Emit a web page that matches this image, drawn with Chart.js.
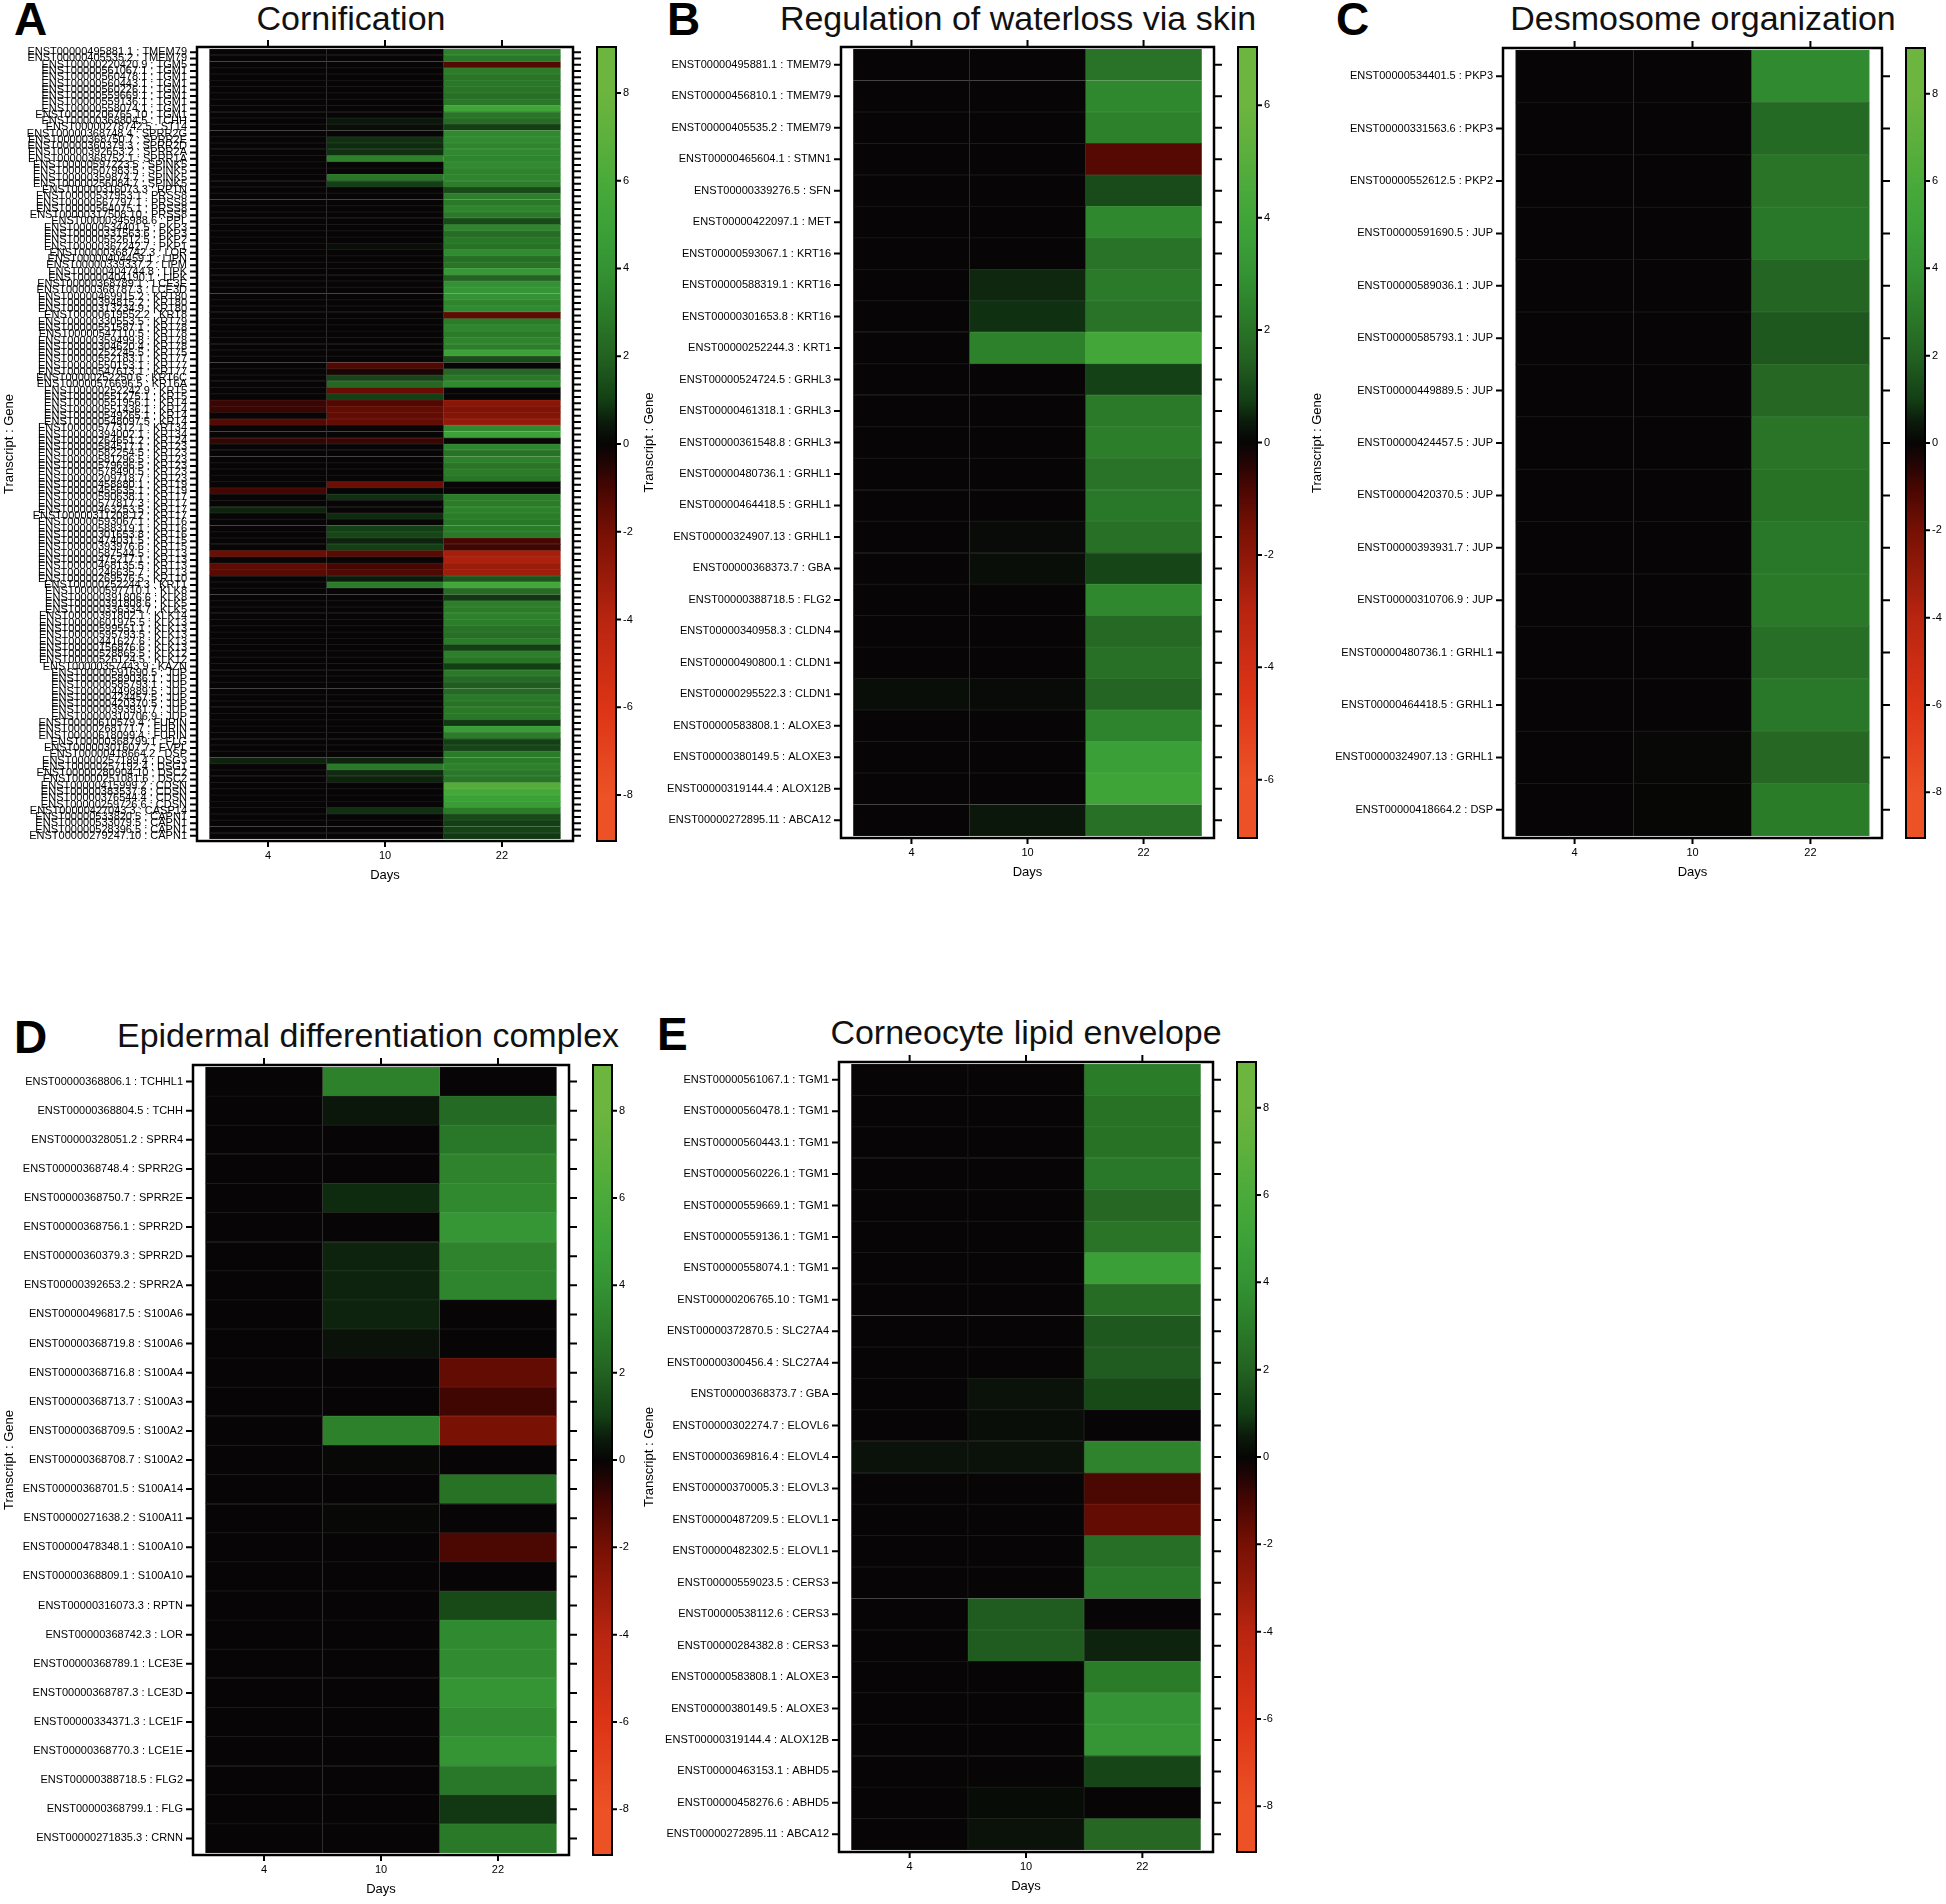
<!DOCTYPE html>
<html>
<head>
<meta charset="utf-8">
<script src="https://cdn.jsdelivr.net/npm/chart.js@4.4.1/dist/chart.umd.min.js"></script>
<style>
  body { margin: 0; background: #fff; width: 1946px; height: 1904px; position: relative; overflow: hidden;
         font-family: "Liberation Sans", Arial, sans-serif; color: #000; }
  canvas { position: absolute; }
  .ttl { position: absolute; font-size: 34px; line-height: 34px; white-space: nowrap; transform: translateX(-50%); color: #111; }
  .let { position: absolute; font-size: 46px; line-height: 46px; font-weight: bold; }
</style>
</head>
<body>
<div class="let" style="left:14px;top:-4px">A</div>
<div class="ttl" style="left:351px;top:1px">Cornification</div>
<div class="let" style="left:667px;top:-4px">B</div>
<div class="ttl" style="left:1018px;top:1px">Regulation of waterloss via skin</div>
<div class="let" style="left:1336px;top:-4px">C</div>
<div class="ttl" style="left:1703px;top:1px">Desmosome organization</div>
<div class="let" style="left:14px;top:1014px">D</div>
<div class="ttl" style="left:368px;top:1018px">Epidermal differentiation complex</div>
<div class="let" style="left:657px;top:1011px">E</div>
<div class="ttl" style="left:1026px;top:1015px">Corneocyte lipid envelope</div>

<script>
// ---------- DATA ----------
const days = ["4", "10", "22"];

// A: Cornification (log2 fold change, days 4 / 10 / 22)
const cornLabels = [
  "ENST00000495881.1 : TMEM79", "ENST00000405535.2 : TMEM79", "ENST00000220420.9 : TGM5",
  "ENST00000561067.1 : TGM1", "ENST00000560478.1 : TGM1", "ENST00000560443.1 : TGM1",
  "ENST00000560226.1 : TGM1", "ENST00000559669.1 : TGM1", "ENST00000559136.1 : TGM1",
  "ENST00000558074.1 : TGM1", "ENST00000206765.10 : TGM1", "ENST00000368804.5 : TCHH",
  "ENST00000278742.5 : ST14", "ENST00000368748.4 : SPRR2G", "ENST00000368750.7 : SPRR2E",
  "ENST00000360379.3 : SPRR2D", "ENST00000392653.2 : SPRR2A", "ENST00000368752.1 : SPRR1A",
  "ENST00000597223.5 : SPINK5", "ENST00000507983.5 : SPINK5", "ENST00000359874.7 : SPINK5",
  "ENST00000256084.7 : SPINK5", "ENST00000316073.3 : RPTN", "ENST00000537953.1 : PRSS8",
  "ENST00000567797.1 : PRSS8", "ENST00000564075.1 : PRSS8", "ENST00000317508.10 : PRSS8",
  "ENST00000345988.6 : PPL", "ENST00000534401.5 : PKP3", "ENST00000331563.6 : PKP3",
  "ENST00000552612.5 : PKP2", "ENST00000367242.7 : PKP1", "ENST00000368742.3 : LOR",
  "ENST00000404459.1 : LIPN", "ENST00000339337.2 : LIPM", "ENST00000404744.8 : LIPK",
  "ENST00000404190.1 : LIPK", "ENST00000368789.1 : LCE3E", "ENST00000368787.3 : LCE3D",
  "ENST00000469915.2 : KRT80", "ENST00000394815.2 : KRT80", "ENST00000313234.9 : KRT80",
  "ENST00000619552.2 : KRT8", "ENST00000330553.5 : KRT79", "ENST00000551587.1 : KRT78",
  "ENST00000547110.5 : KRT78", "ENST00000359499.8 : KRT78", "ENST00000304620.4 : KRT78",
  "ENST00000252245.5 : KRT75", "ENST00000552183.1 : KRT77", "ENST00000550153.1 : KRT77",
  "ENST00000547613.1 : KRT77", "ENST00000252250.6 : KRT6C", "ENST00000576696.5 : KRT6A",
  "ENST00000252242.9 : KRT5", "ENST00000551275.1 : KRT5", "ENST00000551956.1 : KRT4",
  "ENST00000551436.1 : KRT4", "ENST00000549265.1 : KRT4", "ENST00000548097.5 : KRT4",
  "ENST00000577312.1 : KRT34", "ENST00000394002.1 : KRT34", "ENST00000264651.2 : KRT24",
  "ENST00000584517.1 : KRT23", "ENST00000582254.5 : KRT23", "ENST00000581296.5 : KRT23",
  "ENST00000579696.5 : KRT23", "ENST00000578490.5 : KRT23", "ENST00000209718.7 : KRT23",
  "ENST00000458880.1 : KRT19", "ENST00000455635.1 : KRT19", "ENST00000590638.1 : KRT17",
  "ENST00000577817.3 : KRT17", "ENST00000463253.5 : KRT17", "ENST00000311208.12 : KRT17",
  "ENST00000593067.1 : KRT16", "ENST00000588319.1 : KRT16", "ENST00000301653.8 : KRT16",
  "ENST00000474031.5 : KRT15", "ENST00000393976.6 : KRT15", "ENST00000587544.5 : KRT13",
  "ENST00000475217.1 : KRT13", "ENST00000468135.5 : KRT13", "ENST00000246635.7 : KRT13",
  "ENST00000269576.5 : KRT10", "ENST00000252244.3 : KRT1", "ENST00000597710.1 : KLK8",
  "ENST00000391806.6 : KLK8", "ENST00000391808.6 : KLK5", "ENST00000336334.7 : KLK5",
  "ENST00000391802.1 : KLK14", "ENST00000601975.5 : KLK13", "ENST00000599551.1 : KLK13",
  "ENST00000595793.5 : KLK13", "ENST00000441627.6 : KLK13", "ENST00000156876.6 : KLK13",
  "ENST00000528865.5 : KLK12", "ENST00000526124.5 : KLK12", "ENST00000357443.9 : KAZN",
  "ENST00000591690.5 : JUP", "ENST00000589036.1 : JUP", "ENST00000585793.1 : JUP",
  "ENST00000449889.5 : JUP", "ENST00000424457.5 : JUP", "ENST00000420370.5 : JUP",
  "ENST00000393931.7 : JUP", "ENST00000310706.9 : JUP", "ENST00000610579.4 : FURIN",
  "ENST00000268171.7 : FURIN", "ENST00000618099.4 : FURIN", "ENST00000368799.1 : FLG",
  "ENST00000301607.7 : EVPL", "ENST00000418664.2 : DSP", "ENST00000257189.4 : DSG3",
  "ENST00000257192.4 : DSG1", "ENST00000280904.10 : DSC2", "ENST00000251081.6 : DSC2",
  "ENST00000415999.2 : CDSN", "ENST00000383537.8 : CDSN", "ENST00000376544.4 : CDSN",
  "ENST00000259726.6 : CDSN", "ENST00000427043.3 : CASP14", "ENST00000533820.5 : CAPN1",
  "ENST00000533079.5 : CAPN1", "ENST00000528396.5 : CAPN1", "ENST00000279247.10 : CAPN1"
];
const corn4 = [
  0, 0, 0, 0, 0, 0, 0, 0, 0, 0, 0, 0, 0, 0, 0, 0, 0, 0, 0, 0, 0, 0, 0, 0, 0, 0, 0, 0, 0, 0,
  0, 0, 0, 0, 0, 0, 0, 0, 0, 0, 0, 0, 0, 0, 0, 0, 0, 0, 0, 0, 0, 0, 0, 0, 0, 0, -0.8, -0.8, 0, -1.3,
  0, 0, -0.7, 0, 0, 0, 0, 0, 0, 0, -1.0, 0, 0, 0.6, 0, 0, 0, 0, 0, 0, -1.8, 0, -1.5, -1.4, 0, 0,
  0, 0, 0, 0, 0, 0, 0, 0, 0, 0, 0, 0, 0, 0, 0, 0, 0, 0, 0, 0, 0, 0, 0, 0, 0, 0, 0, 0.6, 0, 0,
  0, 0, 0, 0, 0, 0, 0, 0, 0, 0
];
const corn10 = [
  0, 0, 0, 0, 0, 0, 0, 0, 0, 0, 0, 0.4, 0.2, 0, 0.8, 0.7, 0.8, 3.2, 0, 0, 2.7, 1.0, 0, 0, 0, 0, 0, 0, 0, 0,
  0, 0.2, 0, 0, 0, 0, 0, 0, 0, 0, 0, 0, 0, 0, 0, 0, 0, 0, 0, 0, -1.2, -0.3, 1.2, 2.2, -1.7, 1.0, -1.2, -1.6, -1.6, -1.6,
  0, 0, -0.8, 0, 0, 0, 0, 0, 0, -1.8, 0, 0.8, 0, 0, 0.7, 0, 1.0, 1.2, 0.6, 1.0, -1.4, 0, -1.0, -1.2, 0.5, 3.0,
  0, 0, 0, 0, 0, 0, 0, 0, 0, 0, 0, 0, 0, 0, 0, 0, 0, 0, 0, 0, 0, 0, 0, 0, 0, 0, 0, 0.6, 2.9, 0.7,
  0.6, 0, 0, 0, 0, 0.8, 0, 0, 0, 0
];
const corn22 = [
  3.2, 2.8, -1.3, 3.0, 2.7, 2.8, 2.7, 2.5, 2.8, 5.3, 2.7, 2.4, 1.0, 3.5, 3.6, 3.4, 3.5, 3.4, 3.6, 3.3,
  3.4, 3.1, 1.3, 3.1, 2.9, 3.4, 2.9, 1.3, 3.4, 2.4, 2.8, 2.6, 3.7, 2.5, 2.7, 4.4, 2.0, 3.9, 4.2, 4.0,
  3.4, 3.6, -1.5, 3.0, 3.4, 3.0, 3.3, 3.1, 5.0, 1.4, 0, 2.2, 2.9, 3.5, 0, 0, -2.6, -2.3, -2.4, -2.9,
  3.5, 5.0, 0, 3.4, 2.6, 3.2, 2.7, 3.0, 2.7, 0, 0, 3.0, 3.0, 3.2, 3.0, 2.8, 3.0, 2.9, -1.0, -0.9,
  -3.4, -3.6, -3.1, -3.2, 1.6, 5.5, 2.4, 0.9, 3.1, 3.0, 3.2, 3.1, 2.6, 2.5, 3.0, 1.0, 3.1, 2.7, 1.0, 2.9,
  2.3, 1.8, 2.3, 2.8, 2.6, 2.9, 2.8, 0.9, 4.6, 3.0, 1.0, 1.2, 3.0, 3.0, 3.2, 2.8, 2.7, 6.5, 5.6, 5.0,
  4.6, 3.0, 1.3, 1.0, 1.1, 0.9
];

// B: Regulation of waterloss via skin
const waterLabels = [
  "ENST00000495881.1 : TMEM79", "ENST00000456810.1 : TMEM79", "ENST00000405535.2 : TMEM79",
  "ENST00000465604.1 : STMN1", "ENST00000339276.5 : SFN", "ENST00000422097.1 : MET",
  "ENST00000593067.1 : KRT16", "ENST00000588319.1 : KRT16", "ENST00000301653.8 : KRT16",
  "ENST00000252244.3 : KRT1", "ENST00000524724.5 : GRHL3", "ENST00000461318.1 : GRHL3",
  "ENST00000361548.8 : GRHL3", "ENST00000480736.1 : GRHL1", "ENST00000464418.5 : GRHL1",
  "ENST00000324907.13 : GRHL1", "ENST00000368373.7 : GBA", "ENST00000388718.5 : FLG2",
  "ENST00000340958.3 : CLDN4", "ENST00000490800.1 : CLDN1", "ENST00000295522.3 : CLDN1",
  "ENST00000583808.1 : ALOXE3", "ENST00000380149.5 : ALOXE3", "ENST00000319144.4 : ALOX12B",
  "ENST00000272895.11 : ABCA12"
];
const water4 = [0, 0, 0, 0, 0, 0, 0, 0, 0, 0, 0, 0, 0, 0, 0, 0, 0, 0, 0, 0, 0.15, 0, 0, 0, 0];
const water10 = [0, 0, 0, 0, 0, 0, 0, 0.5, 0.6, 2.4, 0, 0, 0, 0, 0, 0.1, 0.15, 0, 0, 0, 0.1, 0, 0, 0, 0.3];
const water22 = [2.0, 2.6, 2.4, -1.0, 1.0, 2.6, 2.0, 2.2, 2.0, 4.1, 0.8, 2.2, 2.3, 2.0, 2.1, 1.9, 0.9, 2.6, 1.7, 1.9, 1.6, 2.5, 3.6, 3.9, 1.9];

// C: Desmosome organization
const desmoLabels = [
  "ENST00000534401.5 : PKP3", "ENST00000331563.6 : PKP3", "ENST00000552612.5 : PKP2",
  "ENST00000591690.5 : JUP", "ENST00000589036.1 : JUP", "ENST00000585793.1 : JUP",
  "ENST00000449889.5 : JUP", "ENST00000424457.5 : JUP", "ENST00000420370.5 : JUP",
  "ENST00000393931.7 : JUP", "ENST00000310706.9 : JUP", "ENST00000480736.1 : GRHL1",
  "ENST00000464418.5 : GRHL1", "ENST00000324907.13 : GRHL1", "ENST00000418664.2 : DSP"
];
const desmo4 = [0, 0, 0, 0, 0, 0, 0, 0, 0, 0, 0, 0, 0, 0, 0];
const desmo10 = [0, 0, 0, 0, 0, 0, 0, 0, 0, 0, 0, 0, 0, 0.1, 0.05];
const desmo22 = [3.6, 2.3, 2.7, 2.8, 2.1, 1.7, 2.2, 2.7, 2.6, 2.8, 2.9, 2.5, 2.8, 2.2, 3.0];

// D: Epidermal differentiation complex
const edcLabels = [
  "ENST00000368806.1 : TCHHL1", "ENST00000368804.5 : TCHH", "ENST00000328051.2 : SPRR4",
  "ENST00000368748.4 : SPRR2G", "ENST00000368750.7 : SPRR2E", "ENST00000368756.1 : SPRR2D",
  "ENST00000360379.3 : SPRR2D", "ENST00000392653.2 : SPRR2A", "ENST00000496817.5 : S100A6",
  "ENST00000368719.8 : S100A6", "ENST00000368716.8 : S100A4", "ENST00000368713.7 : S100A3",
  "ENST00000368709.5 : S100A2", "ENST00000368708.7 : S100A2", "ENST00000368701.5 : S100A14",
  "ENST00000271638.2 : S100A11", "ENST00000478348.1 : S100A10", "ENST00000368809.1 : S100A10",
  "ENST00000316073.3 : RPTN", "ENST00000368742.3 : LOR", "ENST00000368789.1 : LCE3E",
  "ENST00000368787.3 : LCE3D", "ENST00000334371.3 : LCE1F", "ENST00000368770.3 : LCE1E",
  "ENST00000388718.5 : FLG2", "ENST00000368799.1 : FLG", "ENST00000271835.3 : CRNN"
];
const edc4 = [0, 0, 0, 0, 0, 0, 0, 0, 0, 0, 0, 0, 0, 0, 0, 0, 0, 0, 0, 0, 0, 0, 0, 0, 0, 0, 0];
const edc10 = [3.2, 0.4, 0, 0, 0.7, 0, 0.6, 0.6, 0.6, 0.3, 0, 0, 3.2, 0.1, 0, 0.1, 0, 0, 0, 0, 0, 0, 0, 0, 0, 0, 0];
const edc22 = [0, 2.3, 2.8, 3.3, 3.5, 4.2, 3.3, 3.4, 0, 0, -1.6, -0.9, -2.1, 0, 2.6, 0, -1.1, 0, 1.3, 3.6, 3.7, 4.1, 3.7, 4.1, 2.8, 0.9, 2.9];

// E: Corneocyte lipid envelope
const lipidLabels = [
  "ENST00000561067.1 : TGM1", "ENST00000560478.1 : TGM1", "ENST00000560443.1 : TGM1",
  "ENST00000560226.1 : TGM1", "ENST00000559669.1 : TGM1", "ENST00000559136.1 : TGM1",
  "ENST00000558074.1 : TGM1", "ENST00000206765.10 : TGM1", "ENST00000372870.5 : SLC27A4",
  "ENST00000300456.4 : SLC27A4", "ENST00000368373.7 : GBA", "ENST00000302274.7 : ELOVL6",
  "ENST00000369816.4 : ELOVL4", "ENST00000370005.3 : ELOVL3", "ENST00000487209.5 : ELOVL1",
  "ENST00000482302.5 : ELOVL1", "ENST00000559023.5 : CERS3", "ENST00000538112.6 : CERS3",
  "ENST00000284382.8 : CERS3", "ENST00000583808.1 : ALOXE3", "ENST00000380149.5 : ALOXE3",
  "ENST00000319144.4 : ALOX12B", "ENST00000463153.1 : ABHD5", "ENST00000458276.6 : ABHD5",
  "ENST00000272895.11 : ABCA12"
];
const lipid4 = [0, 0, 0, 0, 0, 0, 0, 0, 0, 0, 0, 0, 0.3, 0, 0, 0, 0, 0, 0, 0, 0, 0, 0, 0, 0];
const lipid10 = [0, 0, 0, 0, 0, 0, 0, 0, 0, 0, 0.3, 0.2, 0.3, 0, 0, 0, 0, 1.8, 1.8, 0, 0, 0, 0, 0.15, 0.3];
const lipid22 = [3.0, 2.6, 2.6, 2.8, 2.2, 2.7, 4.8, 2.4, 1.7, 1.8, 1.3, 0, 3.3, -1.1, -1.6, 2.5, 2.8, 0, 0.6, 3.0, 4.0, 4.2, 1.2, 0, 2.2];

// ---------- COLOUR MAP (red - black - green) ----------
const heatStops = [
  [-1, [236, 82, 38]], [-0.75, [220, 52, 22]], [-0.5, [184, 37, 16]], [-0.25, [118, 16, 4]],
  [-0.125, [70, 6, 2]], [-0.05, [30, 5, 4]], [0, [7, 5, 5]], [0.06, [11, 26, 11]],
  [0.125, [19, 63, 20]], [0.25, [35, 98, 34]], [0.375, [43, 124, 41]], [0.5, [52, 147, 52]],
  [0.625, [60, 162, 56]], [0.75, [74, 170, 58]], [0.875, [93, 176, 60]], [1, [108, 181, 63]]
];

// lift mixes the colour towards white (used for the faint cell separators)
function heat(v, range, lift = 0) {
  const f = Math.max(-1, Math.min(1, v / range));
  let c = heatStops[heatStops.length - 1][1];
  for (let i = 1; i < heatStops.length; i++) {
    const [f1, c1] = heatStops[i];
    if (f <= f1) {
      const [f0, c0] = heatStops[i - 1];
      const t = (f - f0) / (f1 - f0);
      c = c0.map((a, k) => a + (c1[k] - a) * t);
      break;
    }
  }
  c = c.map(a => Math.round(a + (255 - a) * lift));
  return `rgb(${c[0]},${c[1]},${c[2]})`;
}

// ---------- FRAME, TICKS, COLOUR BAR ----------
const framePlugin = {
  id: "frame",
  afterDraw(chart) {
    const { ctx, chartArea: a, scales } = chart;
    const top = a.top - 2, bottom = a.bottom + 2;
    const xs = scales.x, ys = scales.y, cb = scales.cb;
    ctx.save();
    ctx.strokeStyle = "#000";
    ctx.lineWidth = 2;
    ctx.beginPath();
    ys.ticks.forEach((t, i) => {
      const py = ys.getPixelForTick(i);
      ctx.moveTo(a.left - 7, py); ctx.lineTo(a.left, py);
      ctx.moveTo(a.right, py); ctx.lineTo(a.right + 8, py);
    });
    xs.ticks.forEach(t => {
      const px = xs.getPixelForValue(t.value);
      ctx.moveTo(px, top - 7); ctx.lineTo(px, top);
      ctx.moveTo(px, bottom); ctx.lineTo(px, bottom + 6);
    });
    ctx.stroke();
    ctx.lineWidth = 2.5;
    ctx.strokeRect(a.left, top, a.right - a.left, bottom - top);

    // colour bar with its own value scale (cb)
    const bx = a.right + 24, bw = 19;
    for (let p = Math.floor(top); p < bottom; p++) {
      const v = Math.max(cb.min, Math.min(cb.max, cb.getValueForPixel(p + 0.5)));
      ctx.fillStyle = heat(v, cb.max);
      ctx.fillRect(bx, p, bw, 1);
    }
    ctx.lineWidth = 2;
    ctx.strokeRect(bx, top, bw, bottom - top);
    ctx.beginPath();
    ctx.fillStyle = "#000";
    ctx.font = '11px "Liberation Sans", Arial, sans-serif';
    ctx.textAlign = "left";
    ctx.textBaseline = "middle";
    cb.ticks.forEach(t => {
      const py = cb.getPixelForValue(t.value);
      ctx.moveTo(bx + bw, py); ctx.lineTo(bx + bw + 5, py);
      ctx.fillText(String(t.value), bx + bw + 7, py);
    });
    ctx.stroke();
    ctx.restore();
  }
};

Chart.defaults.font.family = '"Liberation Sans", Arial, sans-serif';
Chart.defaults.color = "#000";

function buildPanel(p) {
  const cv = document.createElement("canvas");
  cv.width = p.w; cv.height = p.h;
  cv.style.left = p.x + "px"; cv.style.top = p.y + "px";
  document.body.appendChild(cv);
  const cols = [p.d4, p.d10, p.d22];
  new Chart(cv, {
    type: "bar",
    data: {
      labels: p.labels,
      datasets: cols.map((vals, i) => ({
        label: days[i],
        data: vals.map(() => 1),
        backgroundColor: vals.map(v => heat(v, p.range)),
        borderColor: vals.map(v => heat(v, p.range, 0.08)),
        borderWidth: 0.8,
        borderSkipped: false,
        barPercentage: 1,
        categoryPercentage: 1
      }))
    },
    options: {
      indexAxis: "y",
      responsive: false,
      devicePixelRatio: 1,
      animation: false,
      layout: { padding: { top: 18, bottom: 5, left: 0, right: 0 } },
      plugins: { legend: { display: false }, tooltip: { enabled: false } },
      scales: {
        x: {
          type: "linear", stacked: true, min: -0.107, max: 3.107,
          grid: { display: false, drawTicks: false }, border: { display: false },
          afterBuildTicks: s => { s.ticks = [0.5, 1.5, 2.5].map(v => ({ value: v })); },
          afterFit: s => { s.height = 44; },
          ticks: { padding: 10, font: { size: 11 }, callback: (v, i) => days[i] },
          title: { display: true, text: "Days", font: { size: 13 }, padding: 0 }
        },
        y: {
          type: "category", stacked: true, offset: true,
          grid: { display: false, drawTicks: false }, border: { display: false },
          afterFit: s => { s.width = p.yw; },
          ticks: { autoSkip: false, padding: 10, font: { size: 11 } },
          title: { display: true, text: "Transcript : Gene", font: { size: 13 }, padding: 0 }
        },
        cb: {
          type: "linear", position: "right", min: -p.range, max: p.range,
          grid: { display: false, drawTicks: false }, border: { display: false },
          afterFit: s => { s.width = p.w - p.yw - p.fw; },
          ticks: { stepSize: 2, display: false }
        }
      }
    },
    plugins: [framePlugin]
  });
}

buildPanel({ labels: cornLabels, d4: corn4, d10: corn10, d22: corn22, range: 8,
             x: 2, y: 31, w: 640, h: 857, yw: 195, fw: 376 });
buildPanel({ labels: waterLabels, d4: water4, d10: water10, d22: water22, range: 6,
             x: 642, y: 31, w: 641, h: 854, yw: 199, fw: 373 });
buildPanel({ labels: desmoLabels, d4: desmo4, d10: desmo10, d22: desmo22, range: 8,
             x: 1310, y: 32, w: 636, h: 853, yw: 193, fw: 379 });
buildPanel({ labels: edcLabels, d4: edc4, d10: edc10, d22: edc22, range: 8,
             x: 2, y: 1049, w: 636, h: 853, yw: 191, fw: 376 });
buildPanel({ labels: lipidLabels, d4: lipid4, d10: lipid10, d22: lipid22, range: 8,
             x: 642, y: 1046, w: 640, h: 853, yw: 197, fw: 374 });
</script>
</body>
</html>
